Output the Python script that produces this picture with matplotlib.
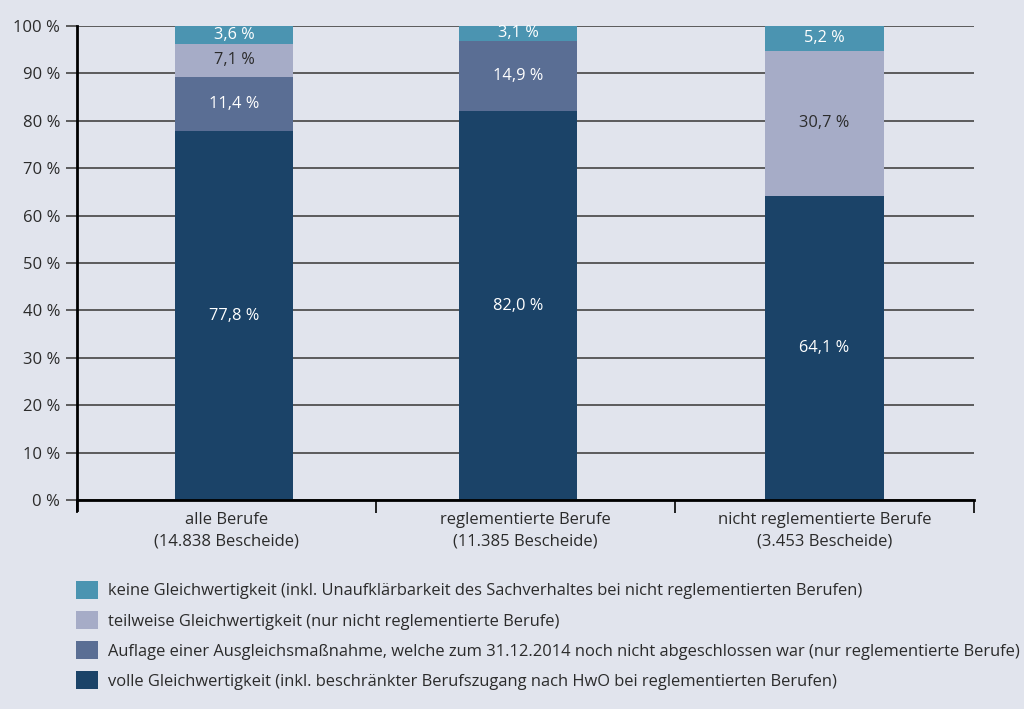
import numpy as np
import matplotlib.pyplot as plt
from matplotlib.patches import Patch

plt.rcParams['font.family'] = ['Open Sans', 'DejaVu Sans']

categories = ['alle Berufe\n(14.838 Bescheide)',
              'reglementierte Berufe\n(11.385 Bescheide)',
              'nicht reglementierte Berufe\n(3.453 Bescheide)']

# stacked from bottom to top
volle = [77.8, 82.0, 64.1]
auflage = [11.4, 14.9, 0.0]
teilweise = [7.1, 0.0, 30.7]
keine = [3.6, 3.1, 5.2]

series_labels = [
    'volle Gleichwertigkeit (inkl. beschränkter Berufszugang nach HwO bei reglementierten Berufen)',
    'Auflage einer Ausgleichsmaßnahme, welche zum 31.12.2014 noch nicht abgeschlossen war (nur reglementierte Berufe)',
    'teilweise Gleichwertigkeit (nur nicht reglementierte Berufe)',
    'keine Gleichwertigkeit (inkl. Unaufklärbarkeit des Sachverhaltes bei nicht reglementierten Berufen)',
]

colors = ['#1b4368', '#5a6e94', '#a6acc7', '#4b94b1']
text_colors = ['white', 'white', '#2b2b2b', 'white']
bg = '#e1e4ed'
grid_c = '#505050'

fig = plt.figure(figsize=(10.24, 7.09), dpi=100, facecolor=bg)
ax = fig.add_axes([0.0752, 0.2948, 0.8760, 0.6685])
ax.set_facecolor(bg)

xpos = np.array([0.525, 1.475, 2.5])
width = 0.395
bottom = np.zeros(3)
handles = []
for vals, col, tc, lab in zip([volle, auflage, teilweise, keine], colors, text_colors, series_labels):
    vals = np.array(vals)
    ax.bar(xpos, vals, width, bottom=bottom, color=col, zorder=3)
    for x, v, b in zip(xpos, vals, bottom):
        if v > 0:
            ax.text(x, b + v / 2, f'{v:.1f}'.replace('.', ',') + ' %',
                    ha='center', va='center', color=tc, fontsize=11.8, zorder=4)
    bottom += vals
    handles.append(Patch(facecolor=col, label=lab))

ax.set_xlim(0, 3)
ax.set_ylim(0, 100)
ax.set_yticks(np.arange(0, 101, 10))
ax.set_yticklabels([f'{t} %' for t in range(0, 101, 10)], fontsize=12, color='#2b2b2b')
ax.yaxis.grid(True, color=grid_c, linewidth=1.3, zorder=0)
ax.tick_params(axis='y', length=8, width=1.3, color=grid_c, pad=4)

ax.set_xticks([0, 1, 2, 3])
ax.set_xticklabels([])
ax.set_xticks([0.5, 1.5, 2.5], minor=True)
ax.set_xticklabels(categories, minor=True, fontsize=12, color='#2b2b2b', linespacing=1.4)
ax.tick_params(axis='x', which='major', length=9, width=1.2, color='black')
ax.tick_params(axis='x', which='minor', length=0, pad=9)

for s in ['top', 'right']:
    ax.spines[s].set_visible(False)
ax.spines['left'].set_linewidth(2)
ax.spines['bottom'].set_linewidth(2)
ax.spines['left'].set_bounds(-2.2, 100)
ax.spines['left'].set_zorder(5)
ax.spines['bottom'].set_zorder(5)

fig.legend(handles[::-1], [h.get_label() for h in handles[::-1]],
           loc='upper left', bbox_to_anchor=(0.068, 0.19), frameon=False,
           fontsize=11.9, handlelength=1.3, handleheight=1.3,
           labelspacing=0.7, handletextpad=0.6, borderaxespad=0,
           labelcolor='#2b2b2b')

fig.savefig('out.png', dpi=100, facecolor=bg)
